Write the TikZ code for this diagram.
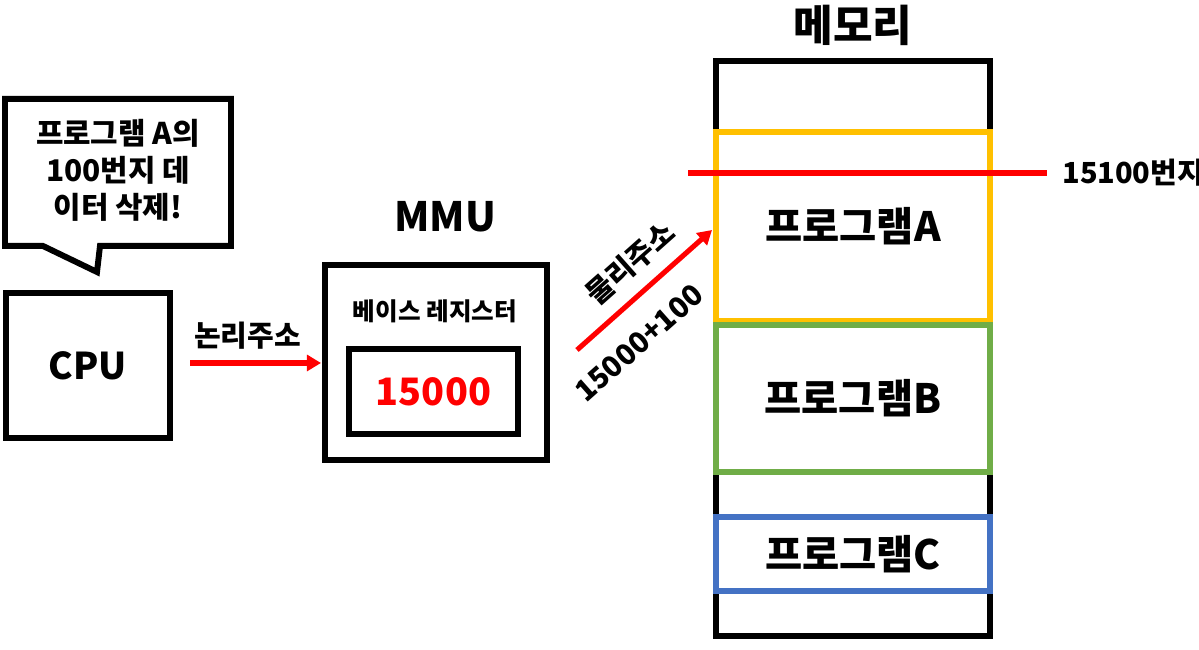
\documentclass[tikz,border=0pt]{standalone}
\usepackage{fontspec}
\setmainfont{Noto Sans CJK KR}
\usetikzlibrary{arrows.meta}
\definecolor{progA}{HTML}{FFC000}
\definecolor{progB}{HTML}{70AD47}
\definecolor{progC}{HTML}{4472C4}
\definecolor{rojo}{HTML}{FF0000}
\tikzset{
  caja/.style={draw, line width=3.4pt, inner sep=0pt},
  prog/.style={draw=#1, line width=2.9pt, minimum width=5.48cm, text=black, font=\bfseries\fontsize{23}{27}\selectfont},
  flecha/.style={rojo, line width=2.9pt, -{Triangle[width=9pt,length=8pt]}},
  etiq/.style={text=black, font=\bfseries\fontsize{16.5}{20}\selectfont},
  titulo/.style={font=\bfseries\fontsize{23}{27}\selectfont}
}
\begin{document}
\begin{tikzpicture}
    \useasboundingbox (0,0) rectangle (23.98,13);
    % Globo
    \draw[line width=3.4pt, line join=miter] (0.1,11.02) -- (4.62,11.02) -- (4.62,8.08) -- (2.0,8.08)
        -- (1.94,7.56) -- (0.86,8.08) -- (0.1,8.08) -- cycle;
    \node[align=center, font=\bfseries\fontsize{17}{21}\selectfont] (globo) at (2.36,9.6) {프로그램 A의\\100번지 데\\이터 삭제!};

    % CPU
    \node[caja, minimum width=3.28cm, minimum height=2.9cm, font=\bfseries\fontsize{21}{25}\selectfont] (cpu) at (1.76,5.69) {CPU};

    % MMU
    \node[caja, minimum width=4.44cm, minimum height=3.9cm] (mmu) at (8.72,5.75) {};
    \node[titulo] (mmutit) at (8.9,8.66) {MMU};
    \node[font=\bfseries\fontsize{14}{17}\selectfont] (base) at (8.7,6.78) {베이스 레지스터};
    \node[caja, minimum width=3.38cm, minimum height=1.7cm, text=rojo, font=\bfseries\fontsize{21.5}{25}\selectfont] (reg) at (8.67,5.17) {15000};

    % Memoria
    \node[caja, minimum width=5.48cm, minimum height=11.5cm] (mem) at (17.06,6.03) {};
    \node[font=\bfseries\fontsize{24.5}{28}\selectfont] (memtit) at (17.06,12.5) {메모리};
    \node[prog=progA, minimum height=3.78cm] (pa) at (17.06,8.47) {프로그램A};
    \node[prog=progB, minimum height=2.94cm] (pb) at (17.06,5.03) {프로그램B};
    \node[prog=progC, minimum height=1.48cm] (pc) at (17.06,1.92) {프로그램C};

    % Direccion
    \coordinate (ini) at (13.76,9.54);
    \coordinate (fin) at (20.94,9.54);
    \draw[rojo, line width=2.9pt] (ini) -- (fin);
    \node[etiq, anchor=west, inner sep=0pt] (dir) at (21.24,9.54) {15100번지};

    % Flechas
    \draw[flecha, shorten <=0.35cm, shorten >=0.02cm] (cpu.east |- 0,5.74) -- (mmu.west |- 0,5.74)
        node[etiq, midway, above=0.1cm] (logica) {논리주소};
    \coordinate (p0) at (11.54,6.0);
    \coordinate (p1) at (14.24,8.4);
    \draw[flecha] (p0) -- (p1);
    \node[etiq, rotate=41.6] (fisica) at (12.6,7.74) {물리주소};
    \node[etiq, rotate=41.6] (suma) at (12.78,6.14) {15000+100};
\end{tikzpicture}
\end{document}
